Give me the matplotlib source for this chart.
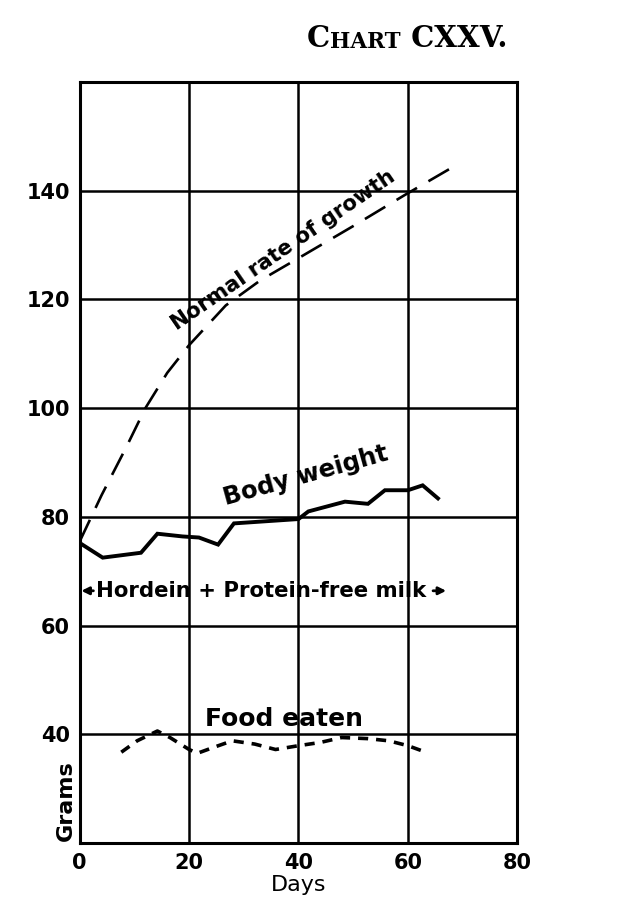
import matplotlib
matplotlib.use("Agg")
import matplotlib.pyplot as plt

# days / grams
normal_days = [0, 4, 8.5, 12, 16, 20, 26.7, 33, 40, 50, 59.4, 67.6]
normal_grams = [75.5, 84, 92.8, 100, 106.5, 111.6, 118.9, 123.5, 127.6, 133.5, 139.2, 144]

weight_days = [0, 4.2, 11.2, 14.2, 18.8, 21.8, 25.3, 28.2, 40, 41.8, 48.5, 52.7, 55.8, 60, 62.7, 65.5]
weight_grams = [75.2, 72.5, 73.4, 76.9, 76.4, 76.2, 74.9, 78.8, 79.6, 81, 82.8, 82.4, 84.9, 84.9, 85.8, 83.4]

food_days = [7.6, 10.5, 14.2, 16.5, 20, 21.5, 24.5, 27.9, 32, 35.8, 40, 44, 47.9, 52.7, 56.5, 60, 63.3]
food_grams = [36.7, 38.8, 40.6, 39.4, 37.2, 36.5, 37.6, 38.8, 38.2, 37.2, 37.9, 38.5, 39.4, 39.2, 38.8, 37.9, 36.7]

x_ticks = [0, 20, 40, 60, 80]
y_ticks = [40, 60, 80, 100, 120, 140]

plt.rcParams['font.family'] = ['DejaVu Sans']
plt.rcParams['font.weight'] = 'bold'

fig = plt.figure(figsize=(6.18, 9.22), dpi=100)
ax = fig.add_axes([0.129, 0.0857, 0.708, 0.8253])

ax.set_xlim(0, 80)
ax.set_ylim(20, 160)
ax.set_xticks(x_ticks)
ax.set_yticks(y_ticks)
ax.set_xticklabels([str(t) for t in x_ticks], fontsize=15)
ax.set_yticklabels([str(t) for t in y_ticks], fontsize=15)
ax.tick_params(length=0, pad=7)
ax.grid(True, color='black', linewidth=1.8)
for s in ax.spines.values():
    s.set_linewidth(2.2)

ax.plot(normal_days, normal_grams, color='black', linewidth=1.9, dashes=(9, 5))
ax.plot(weight_days, weight_grams, color='black', linewidth=2.8, solid_joinstyle='miter')
ax.plot(food_days, food_grams, color='black', linewidth=2.6, dashes=(2.8, 2.2))

ax.text(37.8, 128.1, "Normal rate of growth", rotation=34.5, fontsize=15.3,
        ha='center', va='baseline', rotation_mode='anchor')
ax.text(41.3, 87.6, "Body weight", rotation=15.5, fontsize=17.5,
        ha='center', va='center', rotation_mode='anchor')
ax.text(37.3, 42.8, "Food eaten", fontsize=18, ha='center', va='center')

ax.text(33.2, 66.4, "Hordein + Protein-free milk", fontsize=15.3, ha='center', va='center')
ax.annotate("", xy=(0.3, 66.4), xytext=(2.5, 66.4),
            arrowprops=dict(arrowstyle='-|>', color='black', lw=2, mutation_scale=11,
                            shrinkA=0, shrinkB=0))
ax.annotate("", xy=(67, 66.4), xytext=(64.6, 66.4),
            arrowprops=dict(arrowstyle='-|>', color='black', lw=2, mutation_scale=11,
                            shrinkA=0, shrinkB=0))

ax.set_xlabel("Days", fontsize=16, labelpad=2)
fig.text(0.107, 0.132, "Grams", rotation=90, fontsize=16, ha='center', va='center')

# small-caps title
t1 = fig.text(0.497, 0.949, "C", fontsize=21, family='DejaVu Serif',
              ha='left', va='baseline')
t2 = ax.annotate("HART", xy=(1, 0), xycoords=t1, fontsize=15.5,
                 family='DejaVu Serif', ha='left', va='bottom', annotation_clip=False)
ax.annotate(" CXXV.", xy=(1, 0), xycoords=t2, fontsize=21,
            family='DejaVu Serif', ha='left', va='bottom', annotation_clip=False)

fig.savefig("out.png", dpi=100)
